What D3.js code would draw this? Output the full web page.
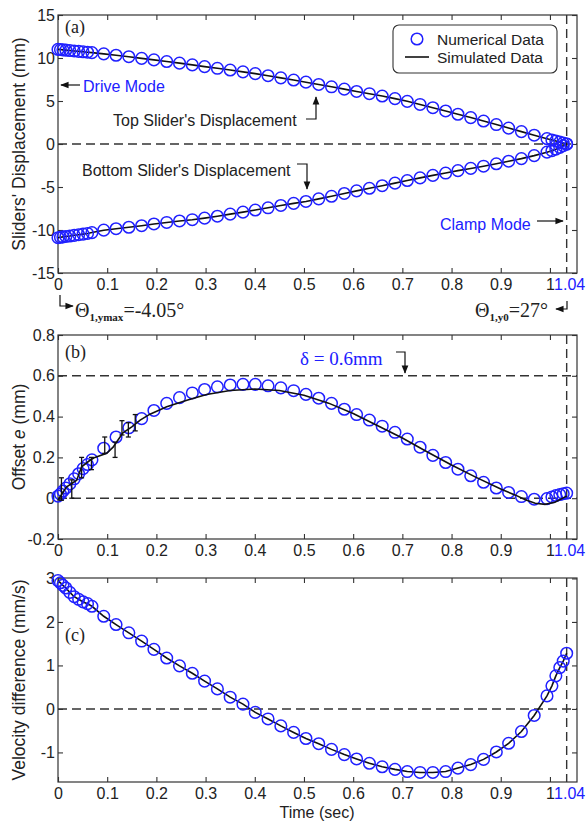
<!DOCTYPE html>
<html>
<head>
<meta charset="utf-8">
<script src="https://cdn.jsdelivr.net/npm/d3@7"></script>
<style>
body { margin: 0; background: #fff; }
text { font-family: "Liberation Sans", Arial, sans-serif; }
.serif { font-family: "Liberation Serif", "Times New Roman", serif; }
</style>
</head>
<body>
<svg id="chart"></svg>
<script>
// time samples of the numerical data (sec)
var tGrid = [0, 0.005, 0.01, 0.016, 0.024, 0.033, 0.042, 0.051, 0.06, 0.069,
  0.093, 0.118, 0.144, 0.170, 0.195, 0.221, 0.247, 0.273, 0.298, 0.324,
  0.350, 0.376, 0.401, 0.427, 0.453, 0.479, 0.504, 0.530, 0.556, 0.582,
  0.607, 0.633, 0.659, 0.685, 0.710, 0.736, 0.762, 0.788, 0.813, 0.839,
  0.865, 0.891, 0.916, 0.942, 0.968, 0.994, 1.004, 1.012, 1.020, 1.027, 1.034];

// (a) slider displacements (mm)
var topSlider = [11.0, 10.98, 10.95, 10.92, 10.87, 10.82, 10.77, 10.72, 10.67, 10.62,
  10.48, 10.32, 10.15, 9.96, 9.78, 9.59, 9.40, 9.20, 9.00, 8.80,
  8.60, 8.39, 8.18, 7.94, 7.69, 7.44, 7.19, 6.92, 6.65, 6.38,
  6.11, 5.85, 5.58, 5.28, 4.96, 4.60, 4.22, 3.84, 3.46, 3.07,
  2.67, 2.26, 1.85, 1.44, 1.02, 0.62, 0.47, 0.35, 0.22, 0.11, 0.0];
var bottomSlider = [-10.9, -10.85, -10.8, -10.75, -10.7, -10.62, -10.55, -10.48, -10.4, -10.3,
  -10.02, -9.85, -9.68, -9.5, -9.3, -9.12, -8.95, -8.8, -8.62, -8.4,
  -8.15, -7.92, -7.68, -7.42, -7.15, -6.9, -6.68, -6.38, -6.08, -5.75,
  -5.45, -5.15, -4.85, -4.55, -4.25, -3.94, -3.65, -3.38, -3.1, -2.84,
  -2.58, -2.3, -2.0, -1.7, -1.35, -0.95, -0.78, -0.6, -0.4, -0.2, 0.0];

// (b) offset e (mm), numerical
var offsetNum = [0.01, 0.02, 0.035, 0.05, 0.07, 0.095, 0.12, 0.145, 0.165, 0.188,
  0.245, 0.30, 0.345, 0.39, 0.43, 0.465, 0.493, 0.516, 0.533, 0.546,
  0.555, 0.558, 0.558, 0.551, 0.541, 0.527, 0.509, 0.49, 0.465, 0.436,
  0.41, 0.383, 0.353, 0.323, 0.29, 0.25, 0.21, 0.175, 0.142, 0.11,
  0.078, 0.05, 0.028, 0.008, -0.005, -0.002, 0.006, 0.013, 0.018, 0.022, 0.025];
// (b) offset e (mm), simulated
var simOffsetT = [0, 0.017, 0.038, 0.048, 0.065, 0.075, 0.099, 0.112, 0.122, 0.132,
  0.15, 0.167, 0.187, 0.221, 0.262, 0.302, 0.35, 0.4, 0.45, 0.5,
  0.55, 0.6, 0.65, 0.7, 0.75, 0.8, 0.85, 0.9, 0.93, 0.95,
  0.97, 0.99, 1.01, 1.034];
var simOffset = [-0.01, 0.055, 0.088, 0.154, 0.186, 0.2, 0.22, 0.25, 0.285, 0.32,
  0.35, 0.383, 0.412, 0.448, 0.48, 0.508, 0.528, 0.535, 0.528, 0.505,
  0.466, 0.415, 0.355, 0.295, 0.228, 0.163, 0.102, 0.045, 0.015, -0.008,
  -0.025, -0.03, -0.02, 0.01];
// error bars on the simulated offset
var errT  = [0.007, 0.028, 0.048, 0.068, 0.095, 0.116, 0.13, 0.143, 0.157];
var errLo = [-0.01, 0.0, 0.1, 0.14, 0.22, 0.2, 0.31, 0.3, 0.33];
var errHi = [0.1, 0.09, 0.2, 0.2, 0.3, 0.275, 0.38, 0.37, 0.41];

// (c) velocity difference (mm/s)
var velocity = [2.95, 2.9, 2.84, 2.78, 2.68, 2.58, 2.52, 2.46, 2.42, 2.36,
  2.13, 1.94, 1.75, 1.56, 1.37, 1.17, 0.99, 0.82, 0.64, 0.46,
  0.27, 0.11, -0.08, -0.23, -0.39, -0.54, -0.68, -0.80, -0.93, -1.05,
  -1.15, -1.25, -1.33, -1.39, -1.44, -1.46, -1.46, -1.44, -1.36, -1.28,
  -1.16, -0.99, -0.79, -0.52, -0.15, 0.30, 0.53, 0.76, 0.95, 1.10, 1.28];

var xTicks = [0, 0.1, 0.2, 0.3, 0.4, 0.5, 0.6, 0.7, 0.8, 0.9, 1];
var yTicksA = [-15, -10, -5, 0, 5, 10, 15];
var yTicksB = [-0.2, 0, 0.2, 0.4, 0.6, 0.8];
var yTicksC = [-1, 0, 1, 2, 3];
var tClamp = 1.034;
var tEndLabel = 1.04;
var delta = 0.6;

var width = 586, height = 823;
var blue = "#2020ff", ink = "#222";

var svg = d3.select("#chart").attr("width", width).attr("height", height);
svg.append("rect").attr("width", width).attr("height", height).attr("fill", "#fff");

var defs = svg.append("defs");
defs.append("marker").attr("id", "head")
  .attr("viewBox", "0 0 10 10").attr("refX", 9).attr("refY", 5)
  .attr("markerWidth", 7).attr("markerHeight", 7).attr("orient", "auto")
  .append("path").attr("d", "M0,1 L10,5 L0,9 Z").attr("fill", "#111");

var xScale = d3.scaleLinear().domain([0, 1.055]).range([58, 577]);

function drawPanel(top, bottom, yDomain, yTicks, yLabel) {
  var y = d3.scaleLinear().domain(yDomain).range([bottom, top]);
  var g = svg.append("g");

  g.append("g").attr("transform", "translate(58,0)")
    .call(d3.axisLeft(y).tickValues(yTicks).tickSize(-5).tickPadding(3).tickFormat(function(d){ return String(d); }));
  g.append("g").attr("transform", "translate(577,0)")
    .call(d3.axisRight(y).tickValues(yTicks).tickSize(-5).tickFormat(""));
  g.append("g").attr("transform", "translate(0," + top + ")")
    .call(d3.axisTop(xScale).tickValues(xTicks).tickSize(-5).tickFormat(""));
  g.append("g").attr("transform", "translate(0," + bottom + ")")
    .call(d3.axisBottom(xScale).tickValues(xTicks).tickSize(-5).tickPadding(6).tickFormat(function(d){ return String(d); }));

  g.selectAll(".domain").remove();
  g.selectAll(".tick line").attr("stroke", "#333").attr("stroke-width", 1.1);
  g.selectAll(".tick text").attr("fill", ink).attr("font-size", 16)
    .attr("font-family", "Liberation Sans, Arial, sans-serif");

  g.append("text").attr("x", xScale(tEndLabel)).attr("y", bottom + 6).attr("dy", "0.71em")
    .attr("text-anchor", "middle").attr("font-size", 16).attr("fill", blue).text("1.04");

  g.append("rect").attr("x", 58).attr("y", top).attr("width", 577 - 58).attr("height", bottom - top)
    .attr("fill", "none").attr("stroke", "#333").attr("stroke-width", 1.2);

  // dashed clamp line
  g.append("line").attr("x1", xScale(tClamp)).attr("x2", xScale(tClamp))
    .attr("y1", top).attr("y2", bottom)
    .attr("stroke", "#333").attr("stroke-width", 1.4).attr("stroke-dasharray", "9,5");

  var lab = g.append("text")
    .attr("transform", "translate(25," + ((top + bottom) / 2) + ") rotate(-90)")
    .attr("text-anchor", "middle").attr("font-size", 17.5).attr("fill", ink);
  yLabel(lab);

  return { g: g, y: y };
}

function hDash(p, v) {
  p.g.append("line").attr("x1", 58).attr("x2", 577).attr("y1", p.y(v)).attr("y2", p.y(v))
    .attr("stroke", "#333").attr("stroke-width", 1.4).attr("stroke-dasharray", "9,5");
}

function simLine(p, ts, vs) {
  var line = d3.line().x(function(d){ return xScale(d[0]); }).y(function(d){ return p.y(d[1]); });
  p.g.append("path").datum(d3.zip(ts, vs)).attr("d", line)
    .attr("fill", "none").attr("stroke", "#111").attr("stroke-width", 1.6);
}

function circles(p, ts, vs) {
  p.g.append("g").selectAll("circle").data(d3.zip(ts, vs)).enter().append("circle")
    .attr("cx", function(d){ return xScale(d[0]); })
    .attr("cy", function(d){ return p.y(d[1]); })
    .attr("r", 5.8).attr("fill", "none").attr("stroke", blue).attr("stroke-width", 1.5);
}

function arrow(g, d) {
  g.append("path").attr("d", d).attr("fill", "none").attr("stroke", "#111")
    .attr("stroke-width", 1.2).attr("marker-end", "url(#head)");
}

// ---- panel (a)
var pa = drawPanel(15, 273, [-15, 15], yTicksA, function(t){ t.text("Sliders' Displacement (mm)"); });
hDash(pa, 0);
simLine(pa, tGrid, topSlider);
simLine(pa, tGrid, bottomSlider);
circles(pa, tGrid, topSlider);
circles(pa, tGrid, bottomSlider);

pa.g.append("text").attr("class", "serif").attr("x", 65).attr("y", 33)
  .attr("font-size", 18).attr("fill", ink).text("(a)");

// legend
var lg = pa.g.append("g");
lg.append("rect").attr("x", 393).attr("y", 25).attr("width", 164).attr("height", 48).attr("rx", 6)
  .attr("fill", "#fff").attr("stroke", "#333").attr("stroke-width", 1.1);
lg.append("circle").attr("cx", 417).attr("cy", 39).attr("r", 5.8)
  .attr("fill", "none").attr("stroke", blue).attr("stroke-width", 1.5);
lg.append("line").attr("x1", 405).attr("x2", 429).attr("y1", 57).attr("y2", 57)
  .attr("stroke", "#111").attr("stroke-width", 1.6);
lg.append("text").attr("x", 437).attr("y", 44.5).attr("font-size", 15.5).attr("fill", ink).text("Numerical Data");
lg.append("text").attr("x", 437).attr("y", 62.5).attr("font-size", 15.5).attr("fill", ink).text("Simulated Data");

// annotations (a)
pa.g.append("text").attr("x", 83).attr("y", 92).attr("font-size", 16).attr("fill", blue).text("Drive Mode");
arrow(pa.g, "M80,85 H61");
pa.g.append("text").attr("x", 113).attr("y", 126).attr("font-size", 16).attr("fill", ink).text("Top Slider's Displacement");
arrow(pa.g, "M306,119 H316 V97");
pa.g.append("text").attr("x", 82).attr("y", 176).attr("font-size", 16).attr("fill", ink).text("Bottom Slider's Displacement");
arrow(pa.g, "M297,164 H307 V189");
pa.g.append("text").attr("x", 440).attr("y", 230).attr("font-size", 16).attr("fill", blue).text("Clamp Mode");
arrow(pa.g, "M537,221 H563");

// theta notes under panel (a)
arrow(svg, "M60,295 V306 H73");
var th1 = svg.append("text").attr("class", "serif").attr("x", 75).attr("y", 317).attr("fill", ink).attr("font-size", 20);
th1.append("tspan").text("\u0398");
th1.append("tspan").attr("font-size", 11).attr("font-weight", "bold").attr("dy", 4).text("1,ymax");
th1.append("tspan").attr("dy", -4).text("=-4.05\u00b0");
var th2 = svg.append("text").attr("class", "serif").attr("x", 475).attr("y", 317).attr("fill", ink).attr("font-size", 20);
th2.append("tspan").text("\u0398");
th2.append("tspan").attr("font-size", 11).attr("font-weight", "bold").attr("dy", 4).text("1,y0");
th2.append("tspan").attr("dy", -4).text("=27\u00b0");
arrow(svg, "M567,301 V309 H556");

// ---- panel (b)
var pb = drawPanel(335, 539, [-0.2, 0.8], yTicksB, function(t){
  t.append("tspan").text("Offset ");
  t.append("tspan").attr("font-style", "italic").text("e");
  t.append("tspan").text(" (mm)");
});
hDash(pb, 0);
hDash(pb, delta);
circles(pb, tGrid, offsetNum);
simLine(pb, simOffsetT, simOffset);
var eb = pb.g.append("g").attr("stroke", "#111").attr("stroke-width", 1.3);
errT.forEach(function(t, i) {
  var x = xScale(t), y0 = pb.y(errLo[i]), y1 = pb.y(errHi[i]);
  eb.append("line").attr("x1", x).attr("x2", x).attr("y1", y0).attr("y2", y1);
  eb.append("line").attr("x1", x - 2.5).attr("x2", x + 2.5).attr("y1", y0).attr("y2", y0);
  eb.append("line").attr("x1", x - 2.5).attr("x2", x + 2.5).attr("y1", y1).attr("y2", y1);
});
pb.g.append("text").attr("class", "serif").attr("x", 65).attr("y", 358)
  .attr("font-size", 18).attr("fill", ink).text("(b)");
pb.g.append("text").attr("class", "serif").attr("x", 300).attr("y", 365)
  .attr("font-size", 19).attr("fill", blue).text("\u03b4 = 0.6mm");
arrow(pb.g, "M396,352 H405 V373");

// ---- panel (c)
var pc = drawPanel(578, 782, [-1.68, 3.01], yTicksC, function(t){ t.text("Velocity difference (mm/s)"); });
hDash(pc, 0);
simLine(pc, tGrid, velocity);
circles(pc, tGrid, velocity);
pc.g.append("text").attr("class", "serif").attr("x", 65).attr("y", 641)
  .attr("font-size", 18).attr("fill", ink).text("(c)");

svg.append("text").attr("x", 317).attr("y", 818).attr("text-anchor", "middle")
  .attr("font-size", 16).attr("fill", ink).text("Time (sec)");
</script>
</body>
</html>
